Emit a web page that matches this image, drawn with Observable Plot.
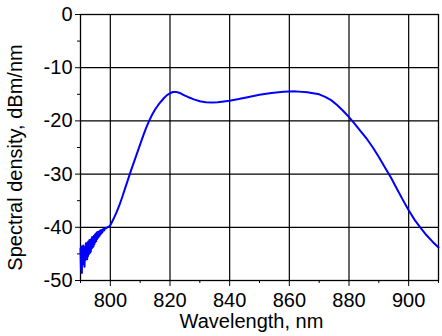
<!DOCTYPE html>
<html>
<head>
<meta charset="utf-8">
<script src="https://cdn.jsdelivr.net/npm/d3@7"></script>
<script src="https://cdn.jsdelivr.net/npm/@observablehq/plot@0.6"></script>
<style>
  html, body { margin: 0; padding: 0; background: #fff; }
  svg { display: block; }
</style>
</head>
<body>
<div id="chart"></div>
<script>
// Wavelength (nm) and spectral density (dBm/nm)
const wavelength = [
  790.0, 790.15, 790.3, 790.45, 790.6, 790.75, 790.9, 791.05, 791.2, 791.35,
  791.5, 791.65, 791.8, 791.95, 792.1, 792.25, 792.4, 792.55, 792.7, 792.85,
  793.0, 793.15, 793.3, 793.45, 793.6, 793.75, 793.9, 794.05, 794.2, 794.35,
  794.5, 794.65, 794.8, 794.95, 795.1, 795.25, 795.4, 795.6, 795.8, 796.0,
  796.2, 796.4, 796.6, 796.8, 797.0, 797.3, 797.6, 797.9, 798.2, 798.6,
  799.0, 799.5, 800, 801, 802, 803, 804, 805, 806, 807,
  808, 809, 810, 811, 812, 813, 814, 815, 816, 817,
  818, 819, 820, 821, 822, 823, 824, 825, 826, 828,
  830, 832, 834, 836, 838, 840, 843, 846, 850, 854,
  858, 862, 866, 868, 870, 872, 874, 876, 878, 880,
  882, 884, 886, 888, 890, 892, 894, 896, 898, 900,
  902, 904, 906, 908, 910
];
const density = [
  -44.0, -47.8, -43.6, -48.6, -44.2, -47.0, -43.4, -46.8, -43.8, -47.4,
  -43.6, -46.2, -43.0, -45.8, -43.4, -46.0, -42.8, -45.4, -42.6, -45.0,
  -42.4, -44.8, -42.8, -44.6, -42.2, -44.0, -41.8, -43.8, -42.2, -43.6,
  -41.6, -43.2, -41.4, -42.8, -41.2, -42.6, -41.0, -42.2, -40.9, -41.9,
  -40.8, -41.6, -40.6, -41.3, -40.5, -41.0, -40.3, -40.6, -40.2, -40.2,
  -40.0, -39.9, -39.6, -38.5, -37.3, -35.9, -34.3, -32.6, -30.9, -29.2,
  -27.6, -26.0, -24.4, -22.8, -21.3, -20.0, -18.85, -17.85, -17.05, -16.35,
  -15.7, -15.15, -14.8, -14.57, -14.55, -14.7, -14.95, -15.25, -15.5, -15.95,
  -16.3, -16.5, -16.55, -16.5, -16.35, -16.2, -15.9, -15.55, -15.1, -14.75,
  -14.5, -14.45, -14.6, -14.8, -15.0, -15.5, -16.1, -17.0, -18.1, -19.3,
  -20.6, -22.0, -23.4, -25.0, -26.8, -28.7, -30.6, -32.7, -34.8, -36.8,
  -38.6, -40.1, -41.5, -42.7, -43.8
];
const xTicks = [800, 820, 840, 860, 880, 900];
const xMinorTicks = [790, 810, 830, 850, 870, 890, 910];
const yTicks = [0, -10, -20, -30, -40, -50];
const yMinorTicks = [-5, -15, -25, -35, -45];
const xLabel = "Wavelength, nm";
const yLabel = "Spectral density, dBm/nm";

const data = wavelength.map((w, i) => ({w, d: density[i]}));
const fmt = d => String(d);

const chart = Plot.plot({
  width: 442,
  height: 336,
  marginLeft: 80,
  marginRight: 4,
  marginTop: 14,
  marginBottom: 56,
  style: {fontFamily: "'Liberation Sans', Arial, sans-serif", fontSize: "20px", color: "#000", background: "#fff"},
  x: {domain: [790, 910]},
  y: {domain: [-50, 0]},
  marks: [
    Plot.gridX(xTicks, {stroke: "#000", strokeOpacity: 1, strokeWidth: 1.2}),
    Plot.gridY(yTicks, {stroke: "#000", strokeOpacity: 1, strokeWidth: 1.2}),
    Plot.axisX(xTicks, {tickSize: 6, tickPadding: 6, tickFormat: fmt, label: null, stroke: "#000", fontSize: 20}),
    Plot.axisX(xMinorTicks, {tickSize: 3, tickFormat: () => "", label: null, stroke: "#000"}),
    Plot.axisY(yTicks, {tickSize: 5, tickPadding: 3, tickFormat: fmt, label: null, stroke: "#000", fontSize: 20}),
    Plot.axisY(yMinorTicks, {tickSize: 3, tickFormat: () => "", label: null, stroke: "#000"}),
    Plot.frame({stroke: "#000", strokeWidth: 1.3}),
    Plot.line(data, {x: "w", y: "d", stroke: "#0000ff", strokeWidth: 2, curve: "linear"}),
    Plot.text([xLabel], {frameAnchor: "bottom", textAnchor: "middle", lineAnchor: "middle", dy: 41, dx: -8, text: d => d, fontSize: 20, fill: "#000"}),
    Plot.text([yLabel], {frameAnchor: "left", textAnchor: "middle", lineAnchor: "middle", dx: -65, dy: 10, rotate: -90, text: d => d, fontSize: 20, fill: "#000"})
  ]
});
document.getElementById("chart").appendChild(chart);
</script>
</body>
</html>
